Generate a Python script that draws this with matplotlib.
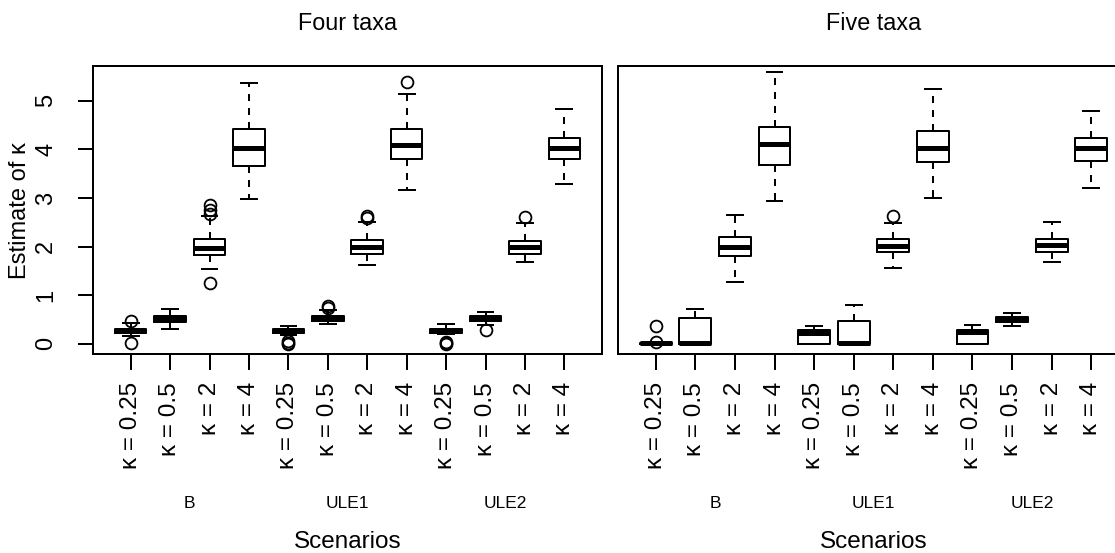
"""
Boxplots of kappa estimates for four and five taxa
"""
import matplotlib
import matplotlib.pyplot as plt
import matplotlib.transforms as mtransforms

matplotlib.use('Agg')
plt.rcParams['font.family'] = ['Liberation Sans', 'DejaVu Sans']

kappa_labels = ['κ = 0.25', 'κ = 0.5', 'κ = 2', 'κ = 4'] * 3
groups = ['B', 'ULE1', 'ULE2']
group_centers = [2.5, 6.5, 10.5]

# four taxa: lower whisker, Q1, median, Q3, upper whisker, outliers
four_whislo = [0.16, 0.31, 1.53, 2.98, 0.17, 0.40, 1.61, 3.17, 0.19, 0.38, 1.68, 3.29]
four_q1 = [0.21, 0.45, 1.83, 3.66, 0.21, 0.46, 1.85, 3.81, 0.21, 0.46, 1.85, 3.81]
four_med = [0.25, 0.51, 1.97, 4.02, 0.25, 0.51, 2.00, 4.10, 0.25, 0.50, 1.99, 4.02]
four_q3 = [0.30, 0.57, 2.15, 4.43, 0.31, 0.57, 2.14, 4.43, 0.30, 0.56, 2.12, 4.23]
four_whishi = [0.43, 0.72, 2.62, 5.36, 0.37, 0.70, 2.50, 5.15, 0.40, 0.66, 2.48, 4.83]
four_fliers = [[0.01, 0.46], [], [1.24, 2.67, 2.75, 2.85], [],
               [-0.01, 0.02, 0.05], [0.74, 0.78], [2.59, 2.63], [5.38],
               [-0.01, 0.01, 0.03], [0.29], [2.60], []]

# five taxa
five_whislo = [0.00, 0.00, 1.26, 2.93, 0.00, 0.00, 1.56, 3.00, 0.00, 0.37, 1.69, 3.21]
five_q1 = [0.00, 0.00, 1.81, 3.68, 0.00, 0.00, 1.89, 3.74, 0.00, 0.44, 1.89, 3.77]
five_med = [0.01, 0.01, 2.00, 4.11, 0.22, 0.01, 2.02, 4.03, 0.23, 0.49, 2.03, 4.03]
five_q3 = [0.02, 0.53, 2.19, 4.47, 0.28, 0.46, 2.16, 4.38, 0.29, 0.55, 2.16, 4.23]
five_whishi = [0.03, 0.71, 2.64, 5.60, 0.37, 0.79, 2.49, 5.25, 0.39, 0.63, 2.51, 4.79]
five_fliers = [[0.03, 0.37], [], [], [], [], [], [2.62], [], [], [], [], []]


def make_stats(whislo, q1, med, q3, whishi, fliers):
    stats = []
    for i in range(len(med)):
        stats.append(dict(whislo=whislo[i], q1=q1[i], med=med[i], q3=q3[i],
                          whishi=whishi[i], fliers=fliers[i]))
    return stats


def draw_panel(ax, stats, title, show_y):
    lw = 1.44
    ax.bxp(stats, positions=list(range(1, 13)), widths=0.8, capwidths=0.4,
           boxprops=dict(color='black', linewidth=lw),
           whiskerprops=dict(color='black', linewidth=lw, linestyle=(0, (3.5, 3.5))),
           capprops=dict(color='black', linewidth=lw),
           medianprops=dict(color='black', linewidth=3.6, solid_capstyle='butt'),
           flierprops=dict(marker='o', markerfacecolor='none', markeredgecolor='black',
                           markersize=8.5, markeredgewidth=1.3))
    ax.set_xlim(0.04, 12.96)
    ax.set_ylim(-0.22, 5.72)
    ax.set_xticks(range(1, 13))
    ax.set_xticklabels(kappa_labels, rotation=90, fontsize=17.5)
    ax.tick_params(axis='x', length=11.5, width=lw, pad=8.5)
    for s in ax.spines.values():
        s.set_linewidth(lw)
    if show_y:
        ax.set_yticks(range(6))
        ax.set_yticklabels([str(v) for v in range(6)], rotation=90, va='center', fontsize=17)
        ax.tick_params(axis='y', length=10.8, width=lw, pad=15)
        ax.text(-0.143, 0.5, 'Estimate of κ', transform=ax.transAxes, rotation=90,
                ha='center', va='center', fontsize=17)
    else:
        ax.tick_params(axis='y', left=False, labelleft=False)

    ax.text(0.5, 1.149, title, transform=ax.transAxes, ha='center', va='center', fontsize=16.8)
    trans = mtransforms.blended_transform_factory(ax.transData, ax.transAxes)
    for g, c in zip(groups, group_centers):
        ax.text(c, -0.516, g, transform=trans, ha='center', va='center', fontsize=12.5)
    ax.text(0.5, -0.650, 'Scenarios', transform=ax.transAxes, ha='center', va='center',
            fontsize=17.5)


fig = plt.figure(figsize=(11.15, 5.53), dpi=100)
ax1 = fig.add_axes([0.0833, 0.3593, 0.4568, 0.5214])
ax2 = fig.add_axes([0.5540, 0.3593, 0.4588, 0.5214])

draw_panel(ax1, make_stats(four_whislo, four_q1, four_med, four_q3, four_whishi, four_fliers),
           'Four taxa', True)
draw_panel(ax2, make_stats(five_whislo, five_q1, five_med, five_q3, five_whishi, five_fliers),
           'Five taxa', False)

fig.savefig('out.png', dpi=100)
